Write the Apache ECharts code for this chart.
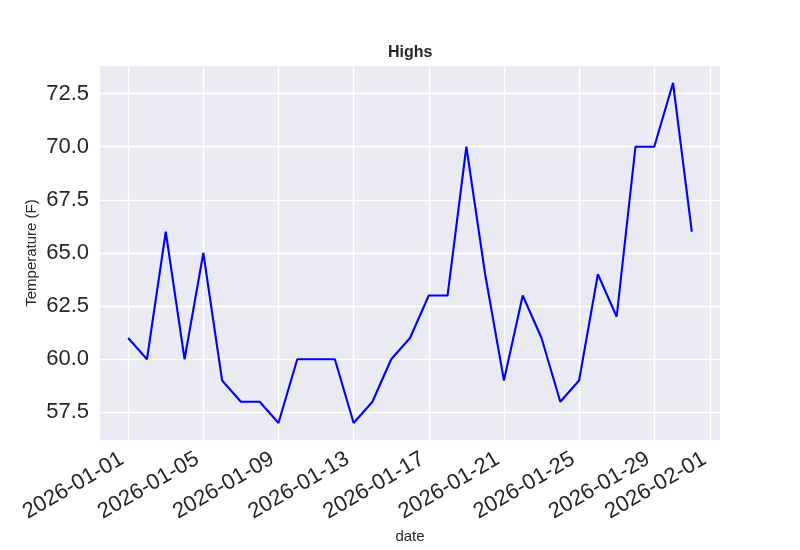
<!DOCTYPE html>
<html>
<head>
<meta charset="utf-8">
<script src="https://cdn.jsdelivr.net/npm/echarts@6/dist/echarts.min.js"></script>
<style>html,body{margin:0;padding:0;background:#fff}#c{width:800px;height:550px}</style>
</head>
<body>
<div id="c"></div>
<script>
var dates = ['2026-01-01','2026-01-02','2026-01-03','2026-01-04','2026-01-05','2026-01-06','2026-01-07','2026-01-08','2026-01-09','2026-01-10','2026-01-11','2026-01-12','2026-01-13','2026-01-14','2026-01-15','2026-01-16','2026-01-17','2026-01-18','2026-01-19','2026-01-20','2026-01-21','2026-01-22','2026-01-23','2026-01-24','2026-01-25','2026-01-26','2026-01-27','2026-01-28','2026-01-29','2026-01-30','2026-01-31'];
var highs = [61,60,66,60,65,59,58,58,57,60,60,60,57,58,60,61,63,63,70,64,59,63,61,58,59,64,62,70,70,73,66];
var xTickLabels = ['2026-01-01','2026-01-05','2026-01-09','2026-01-13','2026-01-17','2026-01-21','2026-01-25','2026-01-29','2026-02-01'];
var yTicks = [57.5,60.0,62.5,65.0,67.5,70.0,72.5];

function toTs(s){var p=s.split('-');return new Date(+p[0],+p[1]-1,+p[2]).getTime();}
var DAY = 86400000;
var xMin = toTs(dates[0]) - 1.5*DAY;
var xMax = toTs(dates[dates.length-1]) + 1.5*DAY;
var xTickVals = xTickLabels.map(toTs);
function pad(n){return (n<10?'0':'')+n;}
function fmt(v){var d=new Date(v);return d.getFullYear()+'-'+pad(d.getMonth()+1)+'-'+pad(d.getDate());}

var chart = echarts.init(document.getElementById('c'), null, {renderer:'canvas'});
var font = 'Liberation Sans, Arial, sans-serif';
chart.setOption({
  animation:false,
  backgroundColor:'#ffffff',
  title:{text:'Highs', left:383, top:40, textStyle:{fontFamily:font, fontSize:16, fontWeight:'bold', color:'#262626'}},
  grid:{left:100, right:80, top:66, bottom:110, show:true, backgroundColor:'#EAEAF2', borderWidth:0, containLabel:false, outerBoundsMode:'none'},
  xAxis:{
    type:'value', min:xMin, max:xMax,
    name:'date', nameLocation:'middle', nameGap:89, nameMoveOverlap:false,
    nameTextStyle:{fontFamily:font, fontSize:15, color:'#262626'},
    axisLine:{show:false}, axisTick:{show:false, customValues:xTickVals},
    axisLabel:{customValues:xTickVals, rotate:30, fontFamily:font, fontSize:22, color:'#262626', margin:14, padding:[0,7,0,0], formatter:function(v){return fmt(v);}},
    splitLine:{show:true, lineStyle:{color:'#ffffff', width:1.3}}
  },
  yAxis:{
    type:'value', min:56.2, max:73.8,
    name:'Temperature (F)', nameLocation:'middle', nameGap:61, nameMoveOverlap:false,
    nameTextStyle:{fontFamily:font, fontSize:15, color:'#262626'},
    axisLine:{show:false}, axisTick:{show:false, customValues:yTicks},
    axisLabel:{customValues:yTicks, fontFamily:font, fontSize:22, color:'#262626', margin:11, formatter:function(v){return v.toFixed(1);}},
    splitLine:{show:true, lineStyle:{color:'#ffffff', width:1.3}}
  },
  series:[{
    type:'line', data:dates.map(function(d,i){return [toTs(d), highs[i]];}),
    showSymbol:false, lineStyle:{color:'#0000FF', width:2.1}, itemStyle:{color:'#0000FF'}
  }]
});
</script>
</body>
</html>
